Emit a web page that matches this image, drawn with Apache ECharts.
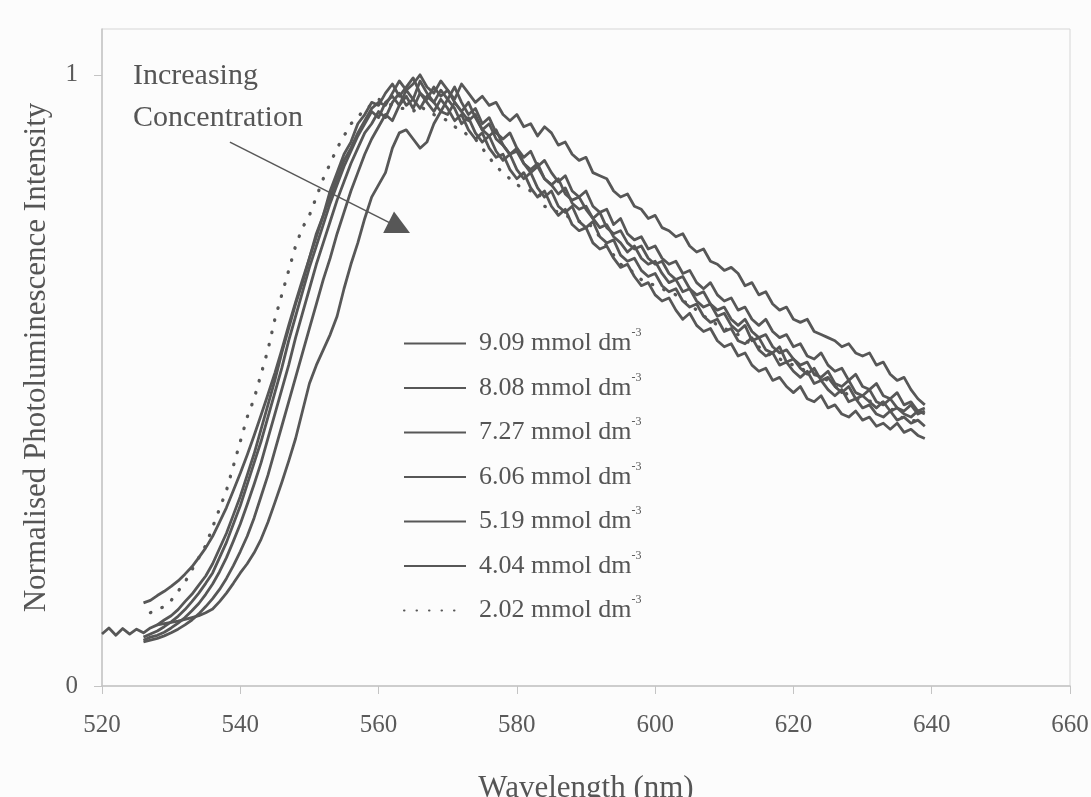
<!DOCTYPE html>
<html>
<head>
<meta charset="utf-8">
<script src="https://cdn.jsdelivr.net/npm/echarts@6/dist/echarts.min.js"></script>
<style>
  html, body { margin: 0; padding: 0; background: #fcfcfc; }
  #main { width: 1091px; height: 797px; }
</style>
</head>
<body>
<div id="main"></div>
<script>
// one reading per nm, starting at the given wavelength
const names = ['9.09 mmol dm', '8.08 mmol dm', '7.27 mmol dm', '6.06 mmol dm', '5.19 mmol dm', '4.04 mmol dm', '2.02 mmol dm'];
const starts = [528, 526, 526, 526, 520, 526, 527];
const xTicks = [520, 540, 560, 580, 600, 620, 640, 660];
const yTicks = [0, 1];

const s909 = [0.100,0.102,0.104,0.106,0.109,0.112,0.115,0.120,0.126,0.138,
  0.152,0.168,0.185,0.200,0.218,0.240,0.268,0.300,0.333,0.368,
  0.405,0.450,0.495,0.525,0.550,0.575,0.605,0.650,0.690,0.725,
  0.765,0.800,0.820,0.840,0.880,0.905,0.910,0.895,0.880,0.890,
  0.920,0.940,0.935,0.955,0.940,0.925,0.935,0.910,0.900,0.910,
  0.885,0.870,0.880,0.855,0.845,0.855,0.830,0.820,0.830,0.805,
  0.795,0.800,0.780,0.765,0.775,0.750,0.740,0.745,0.725,0.715,
  0.720,0.700,0.690,0.695,0.675,0.665,0.670,0.650,0.640,0.645,
  0.625,0.615,0.620,0.600,0.590,0.600,0.580,0.570,0.575,0.555,
  0.545,0.550,0.535,0.525,0.530,0.510,0.505,0.515,0.495,0.490,
  0.500,0.480,0.475,0.485,0.465,0.460,0.470,0.455,0.450,0.460,
  0.445,0.450];
const s808 = [0.072,0.075,0.078,0.082,0.087,0.093,0.100,0.108,0.118,0.130,
  0.143,0.158,0.176,0.197,0.220,0.245,0.275,0.310,0.345,0.385,
  0.425,0.465,0.505,0.545,0.585,0.625,0.665,0.700,0.740,0.775,
  0.810,0.840,0.870,0.895,0.915,0.935,0.925,0.950,0.965,0.945,
  0.970,0.955,0.940,0.960,0.945,0.925,0.935,0.910,0.895,0.905,
  0.880,0.865,0.870,0.845,0.830,0.840,0.815,0.800,0.810,0.785,
  0.770,0.780,0.755,0.745,0.750,0.725,0.715,0.720,0.700,0.685,
  0.690,0.670,0.655,0.660,0.640,0.630,0.635,0.615,0.600,0.610,
  0.590,0.580,0.585,0.565,0.555,0.560,0.540,0.545,0.525,0.515,
  0.520,0.500,0.505,0.490,0.480,0.490,0.470,0.465,0.475,0.455,
  0.460,0.445,0.440,0.450,0.435,0.440,0.425,0.430,0.420,0.430,
  0.415,0.420,0.410,0.405];
const s727 = [0.075,0.080,0.083,0.088,0.095,0.103,0.112,0.123,0.135,0.150,
  0.167,0.187,0.210,0.237,0.265,0.297,0.330,0.365,0.405,0.445,
  0.485,0.525,0.570,0.610,0.650,0.690,0.725,0.760,0.795,0.825,
  0.855,0.880,0.905,0.920,0.940,0.930,0.955,0.970,0.950,0.960,
  0.945,0.965,0.955,0.940,0.960,0.945,0.920,0.930,0.905,0.890,
  0.900,0.875,0.860,0.870,0.845,0.830,0.840,0.815,0.800,0.810,
  0.785,0.775,0.785,0.760,0.750,0.760,0.735,0.725,0.730,0.705,
  0.695,0.700,0.680,0.670,0.675,0.655,0.645,0.650,0.630,0.620,
  0.625,0.605,0.595,0.600,0.580,0.585,0.565,0.560,0.570,0.550,
  0.540,0.545,0.525,0.530,0.515,0.505,0.515,0.495,0.500,0.485,
  0.475,0.485,0.465,0.470,0.455,0.460,0.445,0.440,0.450,0.435,
  0.440,0.430,0.435,0.425];
const s606 = [0.080,0.085,0.090,0.097,0.105,0.114,0.125,0.138,0.152,0.168,
  0.185,0.210,0.235,0.265,0.295,0.330,0.365,0.400,0.440,0.480,
  0.520,0.565,0.605,0.645,0.685,0.720,0.755,0.790,0.820,0.850,
  0.875,0.900,0.920,0.940,0.930,0.955,0.965,0.950,0.975,0.960,
  0.990,0.970,0.955,0.975,0.960,0.980,0.955,0.935,0.945,0.920,
  0.930,0.905,0.895,0.905,0.880,0.865,0.875,0.850,0.860,0.840,
  0.825,0.835,0.810,0.800,0.810,0.785,0.775,0.780,0.755,0.765,
  0.740,0.730,0.735,0.715,0.720,0.700,0.690,0.695,0.675,0.680,
  0.660,0.650,0.660,0.640,0.630,0.635,0.615,0.620,0.600,0.590,
  0.600,0.580,0.570,0.575,0.555,0.560,0.540,0.535,0.545,0.525,
  0.515,0.520,0.500,0.510,0.490,0.485,0.495,0.475,0.470,0.480,
  0.460,0.465,0.450,0.455];
const s519 = [0.085,0.095,0.083,0.094,0.085,0.093,0.087,0.095,0.100,0.108,
  0.115,0.125,0.138,0.150,0.165,0.180,0.200,0.225,0.250,0.280,
  0.310,0.345,0.380,0.420,0.460,0.500,0.545,0.585,0.625,0.660,
  0.700,0.740,0.770,0.810,0.840,0.870,0.890,0.920,0.935,0.955,
  0.950,0.970,0.985,0.965,0.980,0.995,0.970,0.960,0.980,0.965,
  0.975,0.955,0.940,0.955,0.930,0.910,0.920,0.895,0.885,0.870,
  0.875,0.855,0.840,0.850,0.830,0.820,0.805,0.815,0.790,0.780,
  0.785,0.765,0.750,0.755,0.735,0.725,0.710,0.720,0.700,0.690,
  0.695,0.675,0.660,0.665,0.645,0.650,0.630,0.620,0.625,0.605,
  0.610,0.590,0.580,0.590,0.565,0.570,0.550,0.545,0.555,0.530,
  0.535,0.520,0.510,0.520,0.500,0.505,0.490,0.480,0.490,0.470,
  0.475,0.465,0.455,0.465,0.450,0.455,0.445,0.440,0.450,0.445];
const s404 = [0.136,0.140,0.148,0.155,0.163,0.172,0.183,0.195,0.210,0.226,
  0.245,0.268,0.292,0.320,0.348,0.378,0.410,0.443,0.477,0.512,
  0.550,0.590,0.628,0.665,0.700,0.735,0.770,0.800,0.830,0.860,
  0.880,0.905,0.925,0.945,0.955,0.950,0.970,0.990,0.975,0.985,
  1.000,0.980,0.970,0.990,0.975,0.960,0.985,0.970,0.955,0.965,
  0.950,0.955,0.935,0.925,0.935,0.915,0.920,0.900,0.915,0.905,
  0.885,0.890,0.870,0.860,0.865,0.840,0.835,0.830,0.810,0.800,
  0.805,0.785,0.780,0.765,0.770,0.750,0.745,0.735,0.740,0.720,
  0.710,0.715,0.695,0.690,0.680,0.685,0.675,0.655,0.660,0.640,
  0.645,0.625,0.615,0.620,0.600,0.595,0.600,0.580,0.575,0.570,
  0.565,0.555,0.560,0.545,0.540,0.545,0.525,0.530,0.510,0.500,
  0.505,0.485,0.470,0.460];
const s202 = [0.120,0.125,0.130,0.140,0.155,0.170,0.190,0.210,0.230,0.260,
  0.290,0.320,0.360,0.400,0.440,0.470,0.510,0.550,0.600,0.640,
  0.680,0.720,0.750,0.770,0.800,0.830,0.855,0.880,0.900,0.920,
  0.930,0.945,0.950,0.960,0.955,0.950,0.945,0.945,0.940,0.950,
  0.940,0.935,0.930,0.925,0.915,0.910,0.900,0.895,0.880,0.865,
  0.850,0.840,0.830,0.820,0.815,0.810,0.810,0.785,0.780,0.775,
  0.770,0.765,0.760,0.760,0.750,0.735,0.720,0.705,0.690,0.685,
  0.675,0.665,0.660,0.655,0.650,0.645,0.640,0.630,0.625,0.615,
  0.605,0.600,0.590,0.585,0.580,0.575,0.565,0.560,0.555,0.545,
  0.540,0.535,0.530,0.525,0.520,0.515,0.510,0.505,0.500,0.490,
  0.485,0.475,0.470,0.468,0.466,0.465,0.464,0.455,0.445,0.437,
  0.435,0.433,0.430];

// arrow annotation ends, in data units
const arrowFrom = [538.5, 0.89];
const arrowTo = [563.0, 0.75];

const values = [s909, s808, s727, s606, s519, s404, s202];
const serif = 'Liberation Serif';
const ink = '#575757';

const series = names.map((name, i) => {
  const dotted = i === names.length - 1;
  const s = {
    name: name,
    type: 'line',
    symbol: 'none',
    data: values[i].map((v, k) => [starts[i] + k, v]),
    lineStyle: dotted
      ? { color: ink, width: 3.3, type: [0.5, 12], cap: 'round' }
      : { color: ink, width: 2.8, join: 'round' },
    itemStyle: { color: ink },
    emphasis: { disabled: true }
  };
  if (i === 0) {
    s.markLine = {
      silent: true,
      symbol: ['none', 'triangle'],
      symbolSize: 24,
      label: { show: false },
      lineStyle: { color: ink, width: 1.5, type: 'solid' },
      data: [[{ coord: arrowFrom }, { coord: arrowTo }]]
    };
  }
  return s;
});

const chart = echarts.init(document.getElementById('main'));
chart.setOption({
  animation: false,
  backgroundColor: '#fcfcfc',
  grid: {
    left: 102, top: 29, width: 968, height: 657,
    outerBoundsMode: 'none',
    show: true, borderColor: '#d6d6d6', borderWidth: 1
  },
  xAxis: {
    type: 'value',
    min: 520, max: 660, interval: 20,
    name: 'Wavelength (nm)',
    nameLocation: 'middle',
    nameGap: 87,
    nameTextStyle: { fontFamily: serif, fontSize: 31, color: '#555' },
    axisLine: { lineStyle: { color: '#c4c4c4', width: 1.5 } },
    axisTick: { show: true, length: 8, lineStyle: { color: '#c4c4c4' } },
    axisLabel: {
      margin: 27,
      fontFamily: serif, fontSize: 25, color: '#5a5a5a',
      customValues: xTicks
    },
    splitLine: { show: false }
  },
  yAxis: {
    type: 'value',
    min: 0, max: 1.075,
    name: 'Normalised Photoluminescence Intensity',
    nameLocation: 'middle',
    nameRotate: 90,
    nameGap: 50,
    nameTextStyle: { fontFamily: serif, fontSize: 31, color: '#555' },
    axisLine: { show: true, lineStyle: { color: '#c4c4c4', width: 1.5 } },
    axisTick: { show: true, length: 8, customValues: yTicks, lineStyle: { color: '#c4c4c4' } },
    axisLabel: {
      margin: 24,
      fontFamily: serif, fontSize: 25, color: '#5a5a5a',
      customValues: yTicks
    },
    splitLine: { show: false }
  },
  legend: {
    orient: 'vertical',
    left: 398,
    top: 322,
    itemWidth: 62,
    itemHeight: 14,
    itemGap: 15,
    selectedMode: false,
    itemStyle: { opacity: 0 },
    formatter: name => '{t|' + name + '}{s|-3}',
    textStyle: {
      padding: [0, 0, 0, 8],
      rich: {
        t: { fontFamily: serif, fontSize: 26, color: '#555', lineHeight: 33 },
        s: { fontFamily: serif, fontSize: 12, color: '#555', verticalAlign: 'top', lineHeight: 12 }
      }
    }
  },
  graphic: [{
    type: 'text',
    left: 133,
    top: 55,
    silent: true,
    style: {
      text: 'Increasing\nConcentration',
      font: '30px "Liberation Serif"',
      lineHeight: 42,
      fill: '#555'
    }
  }],
  series: series
});
</script>
</body>
</html>
